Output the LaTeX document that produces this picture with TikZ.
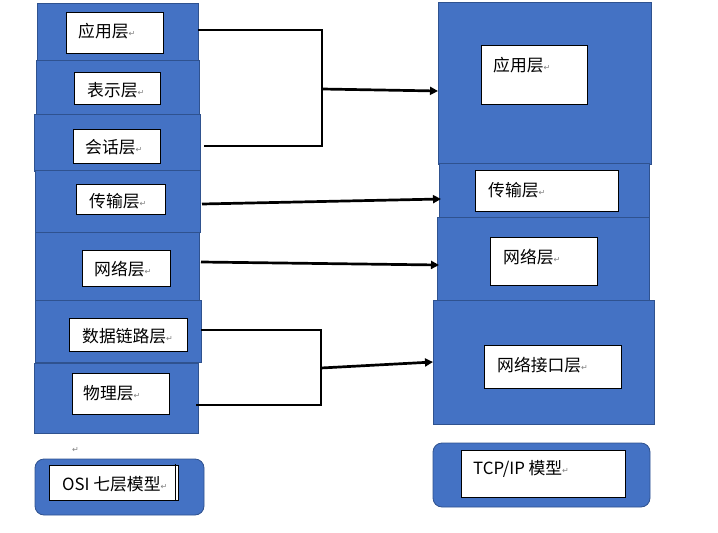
\documentclass[tikz,border=0pt]{standalone}
\usepackage{fontspec}
\setmainfont{Noto Sans CJK SC}
\newfontfamily\symfont{DejaVu Sans}
\usetikzlibrary{arrows.meta,calc}
\definecolor{obl}{HTML}{4472C4}
\definecolor{obd}{HTML}{2F528F}
\newcommand\retmk{{\symfont\fontsize{8}{9}\selectfont\color{gray}\raisebox{0.12em}{↵}}}
\tikzset{
  layer/.style={draw=obd, fill=obl, line width=0.8pt, anchor=north west, inner sep=0pt, outer sep=0pt},
  rlayer/.style={layer, rounded corners=9pt},
  wbox/.style={draw=black, fill=white, line width=1pt, anchor=north west, inner sep=0pt, outer sep=0pt},
  lbl/.style={anchor=west, inner sep=0pt, font=\fontsize{16.8}{20}\selectfont},
  conn/.style={line width=2.7pt, black},
  arr/.style={conn, -{Triangle[length=8pt,width=8pt]}},
}
\begin{document}
\begin{tikzpicture}[x=1pt,y=-1pt]
\useasboundingbox (0,0) rectangle (718,533);
% left column
\node[layer, minimum width=161, minimum height=57] (L1) at (37,3) {};
\node[layer, minimum width=163, minimum height=55] (L2) at (36,60) {};
\node[layer, minimum width=166, minimum height=57] (L3) at (34,114) {};
\node[layer, minimum width=165, minimum height=62] (L4) at (35,170) {};
\node[layer, minimum width=164, minimum height=68] (L5) at (35,232) {};
\node[layer, minimum width=166, minimum height=62] (L6) at (35,300) {};
\node[layer, minimum width=164, minimum height=70] (L7) at (34,363) {};
\node[rlayer, minimum width=169, minimum height=56] (OSI) at (35,459) {};
% right column
\node[layer, minimum width=213, minimum height=162] (R1) at (438,2) {};
\node[layer, minimum width=210, minimum height=54] (R2) at (439,163) {};
\node[layer, minimum width=212, minimum height=83] (R3) at (437,217) {};
\node[layer, minimum width=221, minimum height=124] (R4) at (433,300) {};
\node[rlayer, minimum width=217, minimum height=64] (TCP) at (433,443) {};
% white boxes
\node[wbox, minimum width=97, minimum height=41] (wL1) at (66,12) {};
\node[wbox, minimum width=86, minimum height=32] (wL2) at (74,72) {};
\node[wbox, minimum width=87, minimum height=34] (wL3) at (73,129) {};
\node[wbox, minimum width=89, minimum height=30] (wL4) at (76,184) {};
\node[wbox, minimum width=88, minimum height=36] (wL5) at (82,250) {};
\node[wbox, minimum width=118, minimum height=33] (wL6) at (69,318) {};
\node[wbox, minimum width=97, minimum height=41] (wL7) at (72,373) {};
\node[wbox, minimum width=129, minimum height=35] (wOSI) at (49,465) {};
\draw[line width=1pt] ($(wOSI.north east)+(-2.5,-1)$) -- ($(wOSI.south east)+(-2.5,1)$);
\node[wbox, minimum width=106, minimum height=59] (wR1) at (481,45) {};
\node[wbox, minimum width=143, minimum height=41] (wR2) at (475,170) {};
\node[wbox, minimum width=107, minimum height=48] (wR3) at (490,237) {};
\node[wbox, minimum width=137, minimum height=43] (wR4) at (484,345) {};
\node[wbox, minimum width=164, minimum height=47] (wTCP) at (461,450) {};
% labels
\node[lbl] (tL1) at (78,31) {应用层\retmk};
\node[lbl] (tL2) at (87,90) {表示层\retmk};
\node[lbl] (tL3) at (85,147) {会话层\retmk};
\node[lbl] (tL4) at (89,201) {传输层\retmk};
\node[lbl] (tL5) at (94,269) {网络层\retmk};
\node[lbl] (tL6) at (82,336) {数据链路层\retmk};
\node[lbl] (tL7) at (83,393) {物理层\retmk};
\node[lbl] (tOSI) at (62,484) {OSI 七层模型\retmk};
\node[lbl] (stray) at (72,450) {\retmk};
\node[lbl] (tR1) at (493,65) {应用层\retmk};
\node[lbl] (tR2) at (488,190) {传输层\retmk};
\node[lbl] (tR3) at (503,257) {网络层\retmk};
\node[lbl] (tR4) at (497,365) {网络接口层\retmk};
\node[lbl] (tTCP) at (473,469) {TCP/IP 模型\retmk};
% connectors
\coordinate (j1) at (322,89);
\coordinate (j2) at (321,368);
\draw[conn] ($(L1.east)+(0,-1.5)$) -| (j1) |- ($(L3.east)+(4,3.5)$);
\draw[arr] (j1) -- ($(R1.west)+(0,8)$);
\draw[arr] ($(L4.east)+(2,3)$) -- ($(R2.west)+(2,9)$);
\draw[arr] ($(L5.east)+(2,-4)$) -- ($(R3.west)+(2,6.5)$);
\draw[conn] ($(L6.east)+(0,-1)$) -| (j2) |- ($(L7.east)+(-2,7)$);
\draw[arr] (j2) -- (R4.west);
\end{tikzpicture}
\end{document}
